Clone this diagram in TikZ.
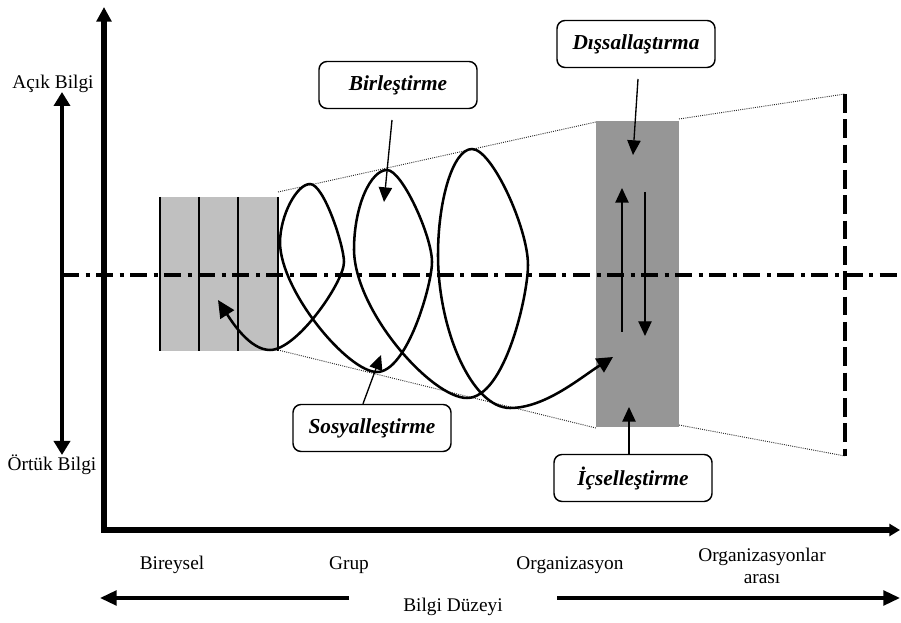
\documentclass[tikz,border=0pt]{standalone}
\usepackage{fontspec}
\setmainfont{Liberation Serif}
\usetikzlibrary{arrows.meta}
\definecolor{lightbox}{HTML}{C0C0C0}
\definecolor{darkbox}{HTML}{969696}
\begin{document}
\begin{tikzpicture}[x=0.75pt,y=-0.75pt,
  lbl/.style={font=\fontsize{14.5}{16}\selectfont, inner sep=0pt},
  phase/.style={draw, line width=1.1pt, rounded corners=6pt, minimum width=118.5pt, minimum height=35.25pt, inner sep=0pt, fill=white,
    font=\fontsize{16}{19}\selectfont\bfseries\itshape},
  thinarrow/.style={line width=1pt, -{Triangle[length=11pt,width=10pt]}},
  guide/.style={line width=0.7pt, black!85, dash pattern=on 0.7pt off 0.9pt},
  divider/.style={line width=1.6pt},
]
\useasboundingbox (0,0) rectangle (901,623);

% shaded areas
\fill[lightbox] (160,197) rectangle (278,351);
\fill[darkbox] (596,121) rectangle (679,427);
\foreach \x in {160,199,238,278} \draw[divider] (\x,197) -- (\x,351);

% dotted guide lines
\draw[guide] (278,192) -- (596,122);
\draw[guide] (679,119) -- (845,94);
\draw[guide] (278,350) -- (596,428);
\draw[guide] (679,425) -- (845,456);

% right dashed boundary
\coordinate (rtop) at (845,94);
\coordinate (rbot) at (845,456);
\draw[line width=3pt, dash pattern=on 14pt off 5pt] (rtop) -- (rbot);

% dash-dot middle line
\coordinate (midL) at (62,275);
\coordinate (midR) at (900,275);
\draw[line width=2.8pt, dash pattern=on 12.75pt off 4.9pt on 3pt off 4.9pt] (midL) -- (midR);

% axes
\coordinate (ytop) at (104,7);
\coordinate (O) at (104,530);
\coordinate (xend) at (900,530);
\draw[line width=4.5pt, {Triangle[length=11pt,width=11pt]}-{Triangle[length=8pt,width=9pt]}] (ytop) -- (O) -- (xend);

% left vertical double arrow
\coordinate (lvTop) at (62,92);
\coordinate (lvBot) at (62,455);
\draw[line width=3pt, {Triangle[length=10.5pt,width=12pt]}-{Triangle[length=10.5pt,width=12pt]}] (lvTop) -- (lvBot);
\node[lbl] (acik) at (53,84) {Açık Bilgi};
\node[lbl] (ortuk) at (52,465) {Örtük Bilgi};

% bottom labels and arrows
\node[lbl] (bireysel) at (172,565) {Bireysel};
\node[lbl] (grup) at (349,565) {Grup};
\node[lbl] (org) at (570,565) {Organizasyon};
\node[lbl, align=center] (orgs) at (762,566) {Organizasyonlar\\arası};
\node[lbl] (duzey) at (453,607) {Bilgi Düzeyi};
\coordinate (blS) at (349,598);
\coordinate (blE) at (100,598);
\coordinate (brS) at (557,598);
\coordinate (brE) at (900,598);
\draw[line width=2.6pt, -{Triangle[length=12.5pt,width=11pt]}] (blS) -- (blE);
\draw[line width=2.6pt, -{Triangle[length=12.5pt,width=11pt]}] (brS) -- (brE);

% spiral
\coordinate (spS) at (218,300);
\coordinate (spE) at (613,357);
\draw[line width=1.9pt, {Triangle[length=13pt,width=12pt]}-{Triangle[length=12pt,width=12pt]}]
  (spS) .. controls (232,322) and (250,350) .. (270,350)
  .. controls (297,350) and (344,282) .. (344,262)
  .. controls (344,246) and (324,184) .. (310,184)
  .. controls (297,184) and (280,215) .. (280,243)
  .. controls (281,292) and (348,372) .. (377,372)
  .. controls (407,372) and (432,285) .. (432,262)
  .. controls (432,236) and (402,170) .. (387,170)
  .. controls (371,170) and (354,205) .. (354,250)
  .. controls (355,312) and (432,398) .. (467,398)
  .. controls (505,398) and (528,295) .. (528,265)
  .. controls (528,228) and (492,149) .. (472,149)
  .. controls (453,149) and (438,200) .. (438,255)
  .. controls (438,330) and (472,408) .. (510,408)
  .. controls (545,408) and (580,378) .. (spE);

% arrows in dark column
\coordinate (upS) at (622,332);
\coordinate (upE) at (622,188);
\coordinate (dnS) at (645,192);
\coordinate (dnE) at (645,336);
\draw[thinarrow] (upS) -- (upE);
\draw[thinarrow] (dnS) -- (dnE);

% phase boxes
\node[phase] (birles) at (398,85) {Birleştirme};
\node[phase] (sosyal) at (372,428) {Sosyalleştirme};
\node[phase] (dissal) at (636,44) {Dışsallaştırma};
\node[phase] (icsel) at (633,478) {İçselleştirme};

\coordinate (birlesS) at (392,120);
\coordinate (birlesE) at (384,202);
\coordinate (sosyalE) at (381,355);
\coordinate (dissalS) at (638,79);
\coordinate (dissalE) at (633,155);
\coordinate (icselS) at (629,452);
\coordinate (icselE) at (629,407);
\draw[thinarrow] (birlesS) -- (birlesE);
\draw[thinarrow] (sosyal.north -| 363,0) -- (sosyalE);
\draw[thinarrow] (dissalS) -- (dissalE);
\draw[thinarrow] (icsel.north -| icselS) -- (icselE);
\end{tikzpicture}
\end{document}
